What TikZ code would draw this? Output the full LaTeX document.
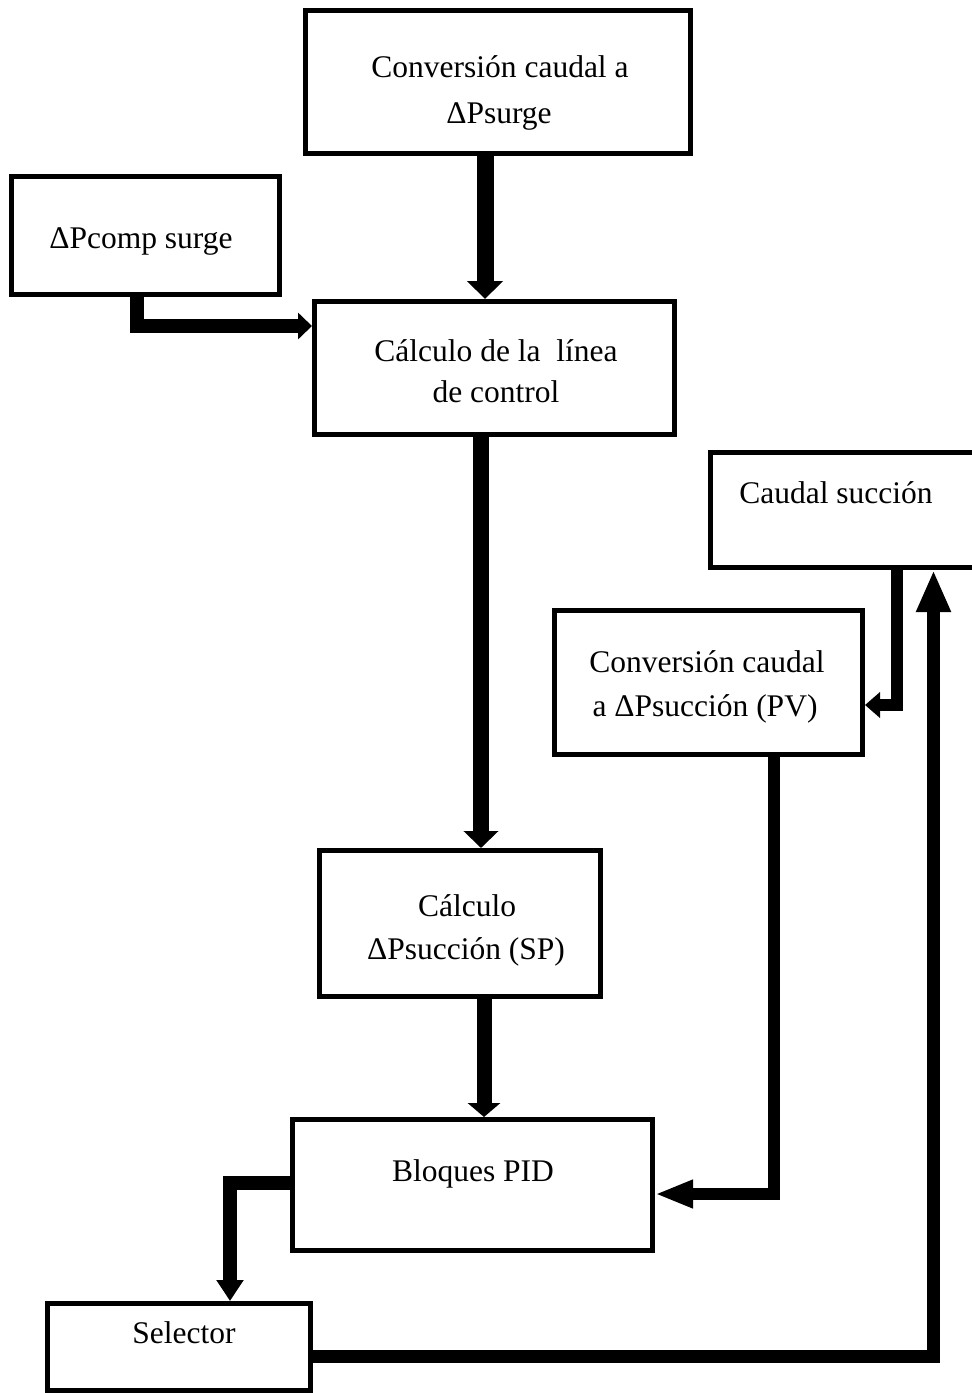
\documentclass[tikz,border=0pt]{standalone}
\usepackage{fontspec}
\setmainfont{Liberation Serif}
\usetikzlibrary{arrows.meta}
\begin{document}
\begin{tikzpicture}[x=1pt,y=-1pt,
  box/.style={draw=black,line width=5pt,rectangle,inner sep=0pt,fill=white},
  txt/.style={anchor=base,inner sep=0pt,font=\fontsize{31.5}{38}\selectfont},
  conn/.style={draw=black,line width=#1,line join=miter,line cap=butt},
]
\useasboundingbox (0,0) rectangle (972,1393);
\fill[white] (0,0) rectangle (972,1393);
% boxes
\node[box,minimum width=385pt,minimum height=143pt] (A) at (498,82) {};
\node[box,minimum width=268pt,minimum height=118pt] (B) at (145.5,235.5) {};
\node[box,minimum width=360pt,minimum height=133pt] (C) at (494.5,368) {};
\node[box,minimum width=277pt,minimum height=115pt] (D) at (849,510) {};
\node[box,minimum width=308pt,minimum height=144pt] (E) at (708.5,682.5) {};
\node[box,minimum width=281pt,minimum height=146pt] (F) at (460,923.5) {};
\node[box,minimum width=360pt,minimum height=131pt] (P) at (472.5,1185) {};
\node[box,minimum width=263pt,minimum height=87pt] (S) at (179,1347) {};
% texts
\node[txt] (A1) at (500,77) {Conversión caudal a};
\node[txt] (A2) at (499,123) {ΔPsurge};
\node[txt] (B1) at (141,248) {ΔPcomp surge};
\node[txt] (C1) at (496,361) {Cálculo de la\ \ línea};
\node[txt] (C2) at (496,402) {de control};
\node[txt] (D1) at (836,503) {Caudal succión};
\node[txt] (E1) at (707,672) {Conversión caudal};
\node[txt] (E2) at (705,716) {a ΔPsucción (PV)};
\node[txt] (F1) at (467,916) {Cálculo};
\node[txt] (F2) at (466,959) {ΔPsucción (SP)};
\node[txt] (P1) at (473,1181) {Bloques PID};
\node[txt] (S1) at (184,1343) {Selector};
% connectors
\draw[conn=17pt,-{Triangle[width=35pt,length=18pt]}] ([xshift=-13pt]A.south) -- ([xshift=-9.5pt]C.north);
\draw[conn=14pt,-{Triangle[width=26pt,length=14pt]}] ([xshift=-9pt]B.south) |- ([yshift=42pt]C.west);
\draw[conn=16pt,-{Triangle[width=34pt,length=17pt]}] ([xshift=-13.5pt]C.south) -- ([xshift=21pt]F.north);
\draw[conn=15pt,-{Triangle[width=32pt,length=14pt]}] ([xshift=24pt]F.south) -- ([xshift=11.5pt]P.north);
\draw[conn=12pt,-{Triangle[width=25pt,length=15pt]}] ([xshift=48pt]D.south) |- ([yshift=-22.5pt]E.east);
\draw[conn=12pt,-{Triangle[width=26pt,length=38pt]}] ([xshift=65.5pt]E.south) |- ([yshift=-9pt]P.east);
\draw[conn=14pt,-{Triangle[width=26pt,length=21pt]}] ([yshift=2pt]P.west) -| ([xshift=51pt]S.north);
\draw[conn=13pt,-{Triangle[width=32pt,length=42pt]}] ([yshift=-9.5pt]S.east) -| ([xshift=84.5pt]D.south);
\end{tikzpicture}
\end{document}
